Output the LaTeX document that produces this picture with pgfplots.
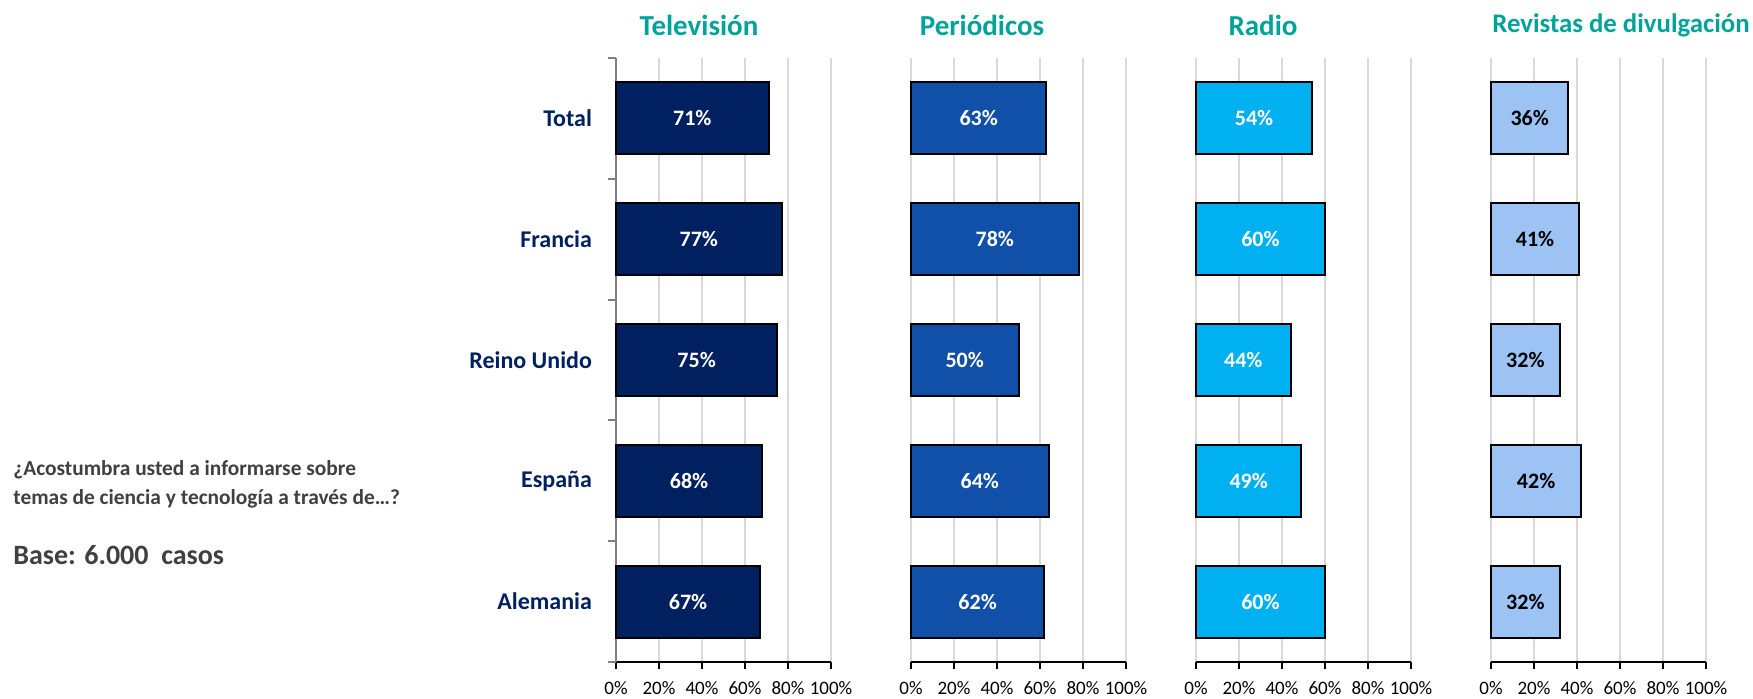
\documentclass[border=0pt]{standalone}
\usepackage{pgfplots}
\pgfplotsset{compat=1.18}
\usepackage{pgfplotstable}
\usepackage{fontspec}
\setmainfont{Carlito}
\definecolor{cTV}{RGB}{0,32,96}
\definecolor{cPer}{RGB}{17,80,168}
\definecolor{cRad}{RGB}{0,176,240}
\definecolor{cRev}{RGB}{157,195,245}
\definecolor{cTitle}{RGB}{0,163,154}
\definecolor{cCat}{RGB}{0,32,96}
\definecolor{cTxt}{RGB}{64,64,64}
\definecolor{cGrid}{RGB}{217,217,217}

\pgfplotstableread{
idx tv per rad rev
0 71 63 54 36
1 77 78 60 41
2 75 50 44 32
3 68 64 49 42
4 67 62 60 32
}\datatab

\pgfplotsset{panel/.style={
  width=107.5pt,height=302pt,scale only axis,
  xmin=0,xmax=100,ymin=-0.5,ymax=4.5,y dir=reverse,
  xtick={0,20,...,100},
  xticklabels={0\%,20\%,40\%,60\%,80\%,100\%},
  xmajorgrids,
  major grid style={draw=cGrid,line width=1.1pt},
  axis x line*=bottom, axis y line*=left,
  x axis line style={black,line width=1pt},
  xtick style={black,line width=1pt},
  tick align=outside, major tick length=3.5pt,
  xticklabel style={font=\fontsize{9.5}{11}\selectfont, text=black, yshift=-2.5pt},
  anchor=south west, clip=false}}

\newcommand\barplot[2]{%
  \addplot[xbar, bar width=36pt, fill=#2, draw=black, line width=1pt] table[x=#1,y=idx]{\datatab};}
\newcommand\barlabels[2]{%
  \addplot[draw=none, mark=none, nodes near coords={\pgfplotspointmeta\%},
    point meta=explicit symbolic,
    every node near coord/.style={anchor=center, font=\bfseries\fontsize{11}{13}\selectfont, text=#2}]
    table[x expr=\thisrow{#1}/2, y=idx, meta=#1]{\datatab};}

\begin{document}
\begin{tikzpicture}
\path[use as bounding box] (0,0) rectangle (876.5pt,-349.5pt);

\begin{axis}[panel, at={(308pt,-331pt)},
  ytick={0,...,4},
  yticklabels={Total,Francia,Reino Unido,España,Alemania},
  ytick style={draw=none},
  minor ytick={-0.5,0.5,...,4.5},
  minor tick length=4pt,
  minor y tick style={draw=gray,line width=1pt},
  y axis line style={draw=gray,line width=1pt},
  yticklabel style={font=\bfseries\fontsize{12}{14}\selectfont, text=cCat, xshift=-5pt}]
\barplot{tv}{cTV}
\barlabels{tv}{white}
\end{axis}

\begin{axis}[panel, at={(455.5pt,-331pt)}, ytick=\empty, y axis line style={draw=none}]
\barplot{per}{cPer}
\barlabels{per}{white}
\end{axis}

\begin{axis}[panel, at={(598pt,-331pt)}, ytick=\empty, y axis line style={draw=none}]
\barplot{rad}{cRad}
\barlabels{rad}{white}
\end{axis}

\begin{axis}[panel, at={(745.5pt,-331pt)}, ytick=\empty, y axis line style={draw=none}]
\barplot{rev}{cRev}
\barlabels{rev}{black}
\end{axis}

\node[font=\bfseries\fontsize{14.5}{16}\selectfont, text=cTitle] at (349.5pt,-12.5pt) {Televisión};
\node[font=\bfseries\fontsize{14.5}{16}\selectfont, text=cTitle] at (491pt,-12.5pt) {Periódicos};
\node[font=\bfseries\fontsize{14.5}{16}\selectfont, text=cTitle] at (631.5pt,-12.5pt) {Radio};
\node[font=\bfseries\fontsize{13.4}{16}\selectfont, text=cTitle] at (810.5pt,-12.5pt) {Revistas de divulgación};

\node[anchor=west, inner sep=0pt, font=\bfseries\fontsize{10.7}{12}\selectfont, text=cTxt] at (6.5pt,-235pt) {¿Acostumbra usted a informarse sobre};
\node[anchor=west, inner sep=0pt, font=\bfseries\fontsize{10.7}{12}\selectfont, text=cTxt] at (6.5pt,-249.5pt) {temas de ciencia y tecnología a través de…?};
\node[anchor=west, inner sep=0pt, font=\bfseries\fontsize{14}{16}\selectfont, text=cTxt] at (6.5pt,-277.5pt) {Base: 6.000\ \ casos};
\end{tikzpicture}
\end{document}
